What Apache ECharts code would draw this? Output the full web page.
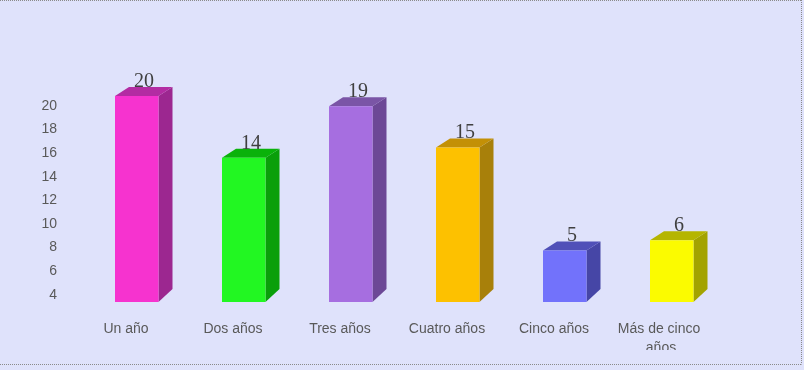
<!DOCTYPE html>
<html>
<head>
<meta charset="utf-8">
<script src="https://cdn.jsdelivr.net/npm/echarts@6/dist/echarts.min.js"></script>
<style>
  html, body { margin: 0; padding: 0; background: #dfe2fb; }
  #chart { width: 804px; height: 370px; }
</style>
</head>
<body>
<div id="chart"></div>
<script>
// datos del gráfico
const categories = ["Un año", "Dos años", "Tres años", "Cuatro años", "Cinco años", "Más de cinco años"];
const values = [20, 14, 19, 15, 5, 6];
const yTicks = [2, 4, 6, 8, 10, 12, 14, 16, 18, 20];

// colores de las caras: frente, lateral, arriba
const FRONT = ["#f633cf", "#22f722", "#a66ee0", "#fdc100", "#7272fb", "#fbfb00"];
const SIDE = ["#9c2790", "#0a9f0a", "#6c4896", "#a8800a", "#4646a6", "#a3a300"];
const TOP = ["#b32ca3", "#0ab20a", "#7a55a6", "#c39006", "#5050b8", "#b5b500"];
const BG = "#dfe2fb";
const TEXT = "#595959";

const chart = echarts.init(document.getElementById("chart"));

const option = {
  backgroundColor: BG,
  animation: false,
  grid: { left: 72.5, right: 89.5, top: 105.7, bottom: 370 - 318.6 },
  xAxis: {
    type: "category",
    data: categories,
    axisLine: { show: false },
    axisTick: { show: false },
    axisLabel: {
      color: TEXT,
      fontFamily: "Liberation Sans",
      fontSize: 14,
      lineHeight: 19,
      margin: 1.5,
      width: 100,
      overflow: "break",
      interval: 0,
    },
  },
  yAxis: [
    {
      // eje visible
      type: "value",
      min: yTicks[0],
      max: yTicks[yTicks.length - 1],
      interval: 2,
      splitLine: { show: false },
      axisLine: { show: false },
      axisTick: { show: false },
      axisLabel: { color: TEXT, fontFamily: "Liberation Sans", fontSize: 14, margin: 15.5, showMinLabel: false },
    },
    {
      // eje de las barras (oculto)
      type: "value",
      min: -1.61,
      max: 19.06,
      show: false,
    },
  ],
  series: [
    {
      type: "custom",
      xAxisIndex: 0,
      yAxisIndex: 1,
      clip: false,
      data: values.map((v, i) => [i, v]),
      renderItem: function (params, api) {
        const i = params.dataIndex;
        const top = api.coord([api.value(0), api.value(1)]);
        const base = api.coord([api.value(0), 0]);
        const c = top[0];
        const x0 = c - 11, x1 = c + 32.5;
        const dx = 14, dy = 9;
        const yt = top[1], yb = base[1];
        return {
          type: "group",
          children: [
            {
              type: "polygon",
              shape: { points: [[x1, yt], [x1 + dx, yt - dy], [x1 + dx, yb - dy - 4], [x1, yb]] },
              style: { fill: SIDE[i] },
            },
            {
              type: "polygon",
              shape: { points: [[x0, yt], [x0 + dx, yt - dy], [x1 + dx, yt - dy], [x1, yt]] },
              style: { fill: TOP[i] },
            },
            {
              type: "rect",
              shape: { x: x0, y: yt, width: x1 - x0, height: yb - yt },
              style: { fill: FRONT[i] },
            },
            {
              type: "text",
              style: {
                text: String(api.value(1)),
                x: c + 18,
                y: yt - dy - 5.5,
                align: "center",
                verticalAlign: "middle",
                font: "20px 'Liberation Serif'",
                fill: "#404040",
              },
            },
          ],
        };
      },
    },
  ],
  graphic: [
    // recorte inferior de la segunda línea de la etiqueta
    { type: "rect", left: 0, top: 350, shape: { width: 800, height: 14 }, style: { fill: BG }, z: 100 },
    { type: "line", shape: { x1: 0, y1: 0.5, x2: 801.5, y2: 0.5 }, style: { stroke: "#8a8a8a", lineDash: [1, 1] }, z: 101 },
    { type: "line", shape: { x1: 801.5, y1: 0, x2: 801.5, y2: 364.5 }, style: { stroke: "#8a8a8a", lineDash: [1, 1] }, z: 101 },
    { type: "line", shape: { x1: 0, y1: 364.5, x2: 801.5, y2: 364.5 }, style: { stroke: "#8a8a8a", lineDash: [1, 1] }, z: 101 },
  ],
};

chart.setOption(option);
</script>
</body>
</html>
